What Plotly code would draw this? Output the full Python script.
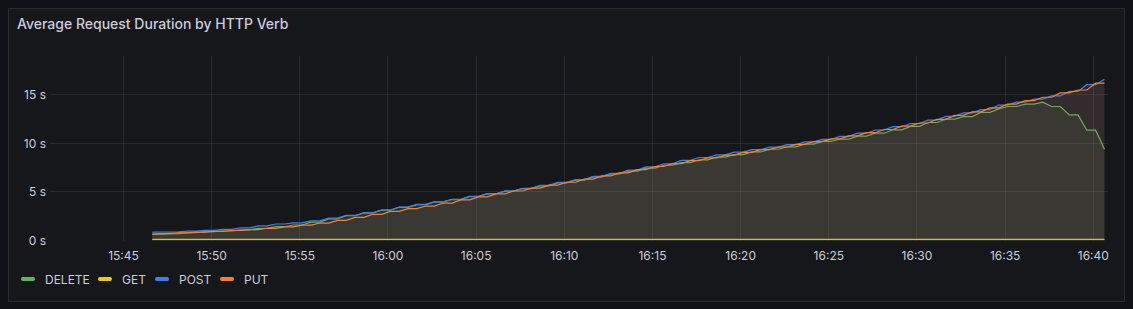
import pandas as pd
import plotly.graph_objects as go

title = "Average Request Duration by HTTP Verb"
series_names = ["DELETE", "GET", "POST", "PUT"]
series_colors = ["#62B556", "#F2C811", "#3F80EF", "#FF7F27"]

# 30-second samples
times = pd.date_range("2024-01-01 15:46:38", periods=109, freq="30s")

delete_s = [
    0.64, 0.64, 0.70, 0.70, 0.80, 0.80, 0.90, 0.90, 0.98, 0.98, 1.10, 1.10, 1.25, 1.25, 1.42, 1.42, 1.60, 1.60, 1.90, 1.90,
    2.22, 2.22, 2.55, 2.55, 2.85, 2.85, 3.12, 3.12, 3.42, 3.42, 3.70, 3.70, 3.98, 3.98, 4.25, 4.25, 4.55, 4.55, 4.82, 4.82,
    5.08, 5.08, 5.35, 5.35, 5.62, 5.62, 5.92, 5.92, 6.22, 6.22, 6.55, 6.55, 6.85, 6.85, 7.15, 7.15, 7.45, 7.45, 7.75, 7.75,
    8.02, 8.02, 8.30, 8.30, 8.58, 8.58, 8.85, 8.85, 9.12, 9.12, 9.40, 9.40, 9.65, 9.65, 9.92, 9.92, 10.20, 10.20, 10.45, 10.45,
    10.75, 10.75, 11.05, 11.05, 11.40, 11.40, 11.75, 11.75, 12.15, 12.15, 12.50, 12.50, 12.76, 12.76, 13.20, 13.20,
    13.55, 13.80, 13.80, 14.04, 14.04, 14.25, 13.80, 13.80, 12.94, 12.94, 11.36, 11.36, 9.40,
]

get_s = [
    0.12, 0.12, 0.12, 0.12, 0.12, 0.12, 0.12, 0.12, 0.12, 0.12, 0.12, 0.12, 0.12, 0.12, 0.12, 0.12, 0.12, 0.12, 0.12, 0.12,
    0.12, 0.12, 0.12, 0.12, 0.12, 0.12, 0.12, 0.12, 0.12, 0.12, 0.12, 0.12, 0.12, 0.12, 0.12, 0.12, 0.12, 0.12, 0.12, 0.12,
    0.12, 0.12, 0.12, 0.12, 0.12, 0.12, 0.12, 0.12, 0.12, 0.12, 0.12, 0.12, 0.12, 0.12, 0.12, 0.12, 0.12, 0.12, 0.12, 0.12,
    0.12, 0.12, 0.12, 0.12, 0.12, 0.12, 0.12, 0.12, 0.12, 0.12, 0.12, 0.12, 0.12, 0.12, 0.12, 0.12, 0.12, 0.12, 0.12, 0.12,
    0.12, 0.12, 0.12, 0.12, 0.12, 0.12, 0.12, 0.12, 0.12, 0.12, 0.12, 0.12, 0.12, 0.12, 0.12, 0.12, 0.12, 0.12, 0.12, 0.12,
    0.12, 0.12, 0.12, 0.12, 0.12, 0.12, 0.12, 0.12, 0.12,
]

post_s = [
    0.86, 0.86, 0.90, 0.90, 0.97, 0.97, 1.05, 1.05, 1.14, 1.14, 1.30, 1.30, 1.50, 1.50, 1.70, 1.70, 1.82, 1.82, 2.02, 2.02,
    2.30, 2.30, 2.58, 2.58, 2.85, 2.85, 3.14, 3.14, 3.45, 3.45, 3.72, 3.72, 3.98, 3.98, 4.22, 4.22, 4.52, 4.52, 4.80, 4.80,
    5.10, 5.10, 5.38, 5.38, 5.68, 5.68, 5.98, 5.98, 6.28, 6.28, 6.60, 6.60, 6.92, 6.92, 7.25, 7.25, 7.58, 7.58, 7.90, 7.90,
    8.25, 8.25, 8.55, 8.55, 8.82, 8.82, 9.10, 9.10, 9.35, 9.35, 9.62, 9.62, 9.88, 9.88, 10.15, 10.15, 10.42, 10.42, 10.72, 10.72,
    11.05, 11.05, 11.38, 11.38, 11.72, 11.72, 12.05, 12.05, 12.40, 12.40, 12.78, 12.78, 13.15, 13.15, 13.48, 13.48, 13.95, 13.95, 14.25, 14.25,
    14.55, 14.55, 14.90, 14.90, 15.35, 15.35, 16.05, 16.05, 16.60,
]

put_s = [
    0.66, 0.72, 0.72, 0.78, 0.78, 0.86, 0.86, 0.95, 0.95, 1.03, 1.03, 1.13, 1.13, 1.26, 1.26, 1.40, 1.40, 1.58, 1.58,
    1.80, 1.80, 2.08, 2.08, 2.38, 2.38, 2.70, 2.70, 3.00, 3.00, 3.28, 3.28, 3.55, 3.55, 3.86, 3.86, 4.18, 4.18, 4.50, 4.50,
    4.80, 4.80, 5.10, 5.10, 5.40, 5.40, 5.70, 5.70, 6.00, 6.00, 6.32, 6.32, 6.65, 6.65, 6.97, 6.97, 7.30, 7.30, 7.62, 7.62,
    7.92, 7.92, 8.22, 8.22, 8.50, 8.50, 8.80, 8.80, 9.08, 9.08, 9.36, 9.36, 9.63, 9.63, 9.90, 9.90, 10.18, 10.18, 10.46, 10.46,
    10.78, 10.78, 11.10, 11.10, 11.43, 11.43, 11.78, 11.78, 12.10, 12.10, 12.48, 12.48, 12.88, 12.88, 13.25, 13.25, 13.65, 13.65, 14.05, 14.05,
    14.40, 14.40, 14.75, 14.75, 15.20, 15.20, 15.50, 15.50, 16.20, 16.20,
]

y_tick_vals = [0, 5, 10, 15]
y_tick_text = ["0 s", "5 s", "10 s", "15 s"]

series_values = [delete_s, get_s, post_s, put_s]
fill_colors = ["rgba(115,191,105,0.10)", "rgba(242,200,17,0.10)", "rgba(87,148,242,0.10)", "rgba(255,120,10,0.10)"]

FONT = "Inter, Roboto, sans-serif"
TXT = "#ccccdc"

W, H = 1133, 309
L, R, T, B = 50, 25, 56, 68
pw, ph = W - L - R, H - T - B

def px_x(x):
    return (x - L) / pw

def px_y(y):
    return (H - B - y) / ph

fig = go.Figure()
for name, vals, col, fc in zip(series_names, series_values, series_colors, fill_colors):
    fig.add_trace(go.Scatter(
        x=times, y=vals, name=name, mode="lines",
        line=dict(color=col, width=1.2), fill="tozeroy", fillcolor=fc,
        showlegend=False, hoverinfo="skip",
    ))

# panel
fig.add_shape(type="rect", xref="paper", yref="paper",
              x0=px_x(8.5), x1=px_x(1124.5), y0=px_y(301.5), y1=px_y(8.5),
              line=dict(color="rgba(204,204,220,0.12)", width=1),
              fillcolor="#16171b", layer="below")

# legend (swatch + label per series)
legend_swatch_x = [21, 98, 155, 220]
legend_text_x = [43, 120, 177, 242]
legend_y = 279
for name, col, sx, tx in zip(series_names, series_colors, legend_swatch_x, legend_text_x):
    fig.add_shape(type="line", xref="paper", yref="paper",
                  x0=px_x(sx + 1.5), x1=px_x(sx + 12.5), y0=px_y(legend_y), y1=px_y(legend_y),
                  line=dict(color=col, width=4))
    fig.add_shape(type="circle", xref="paper", yref="paper",
                  x0=px_x(sx), x1=px_x(sx + 4), y0=px_y(legend_y + 2), y1=px_y(legend_y - 2),
                  line=dict(width=0), fillcolor=col)
    fig.add_shape(type="circle", xref="paper", yref="paper",
                  x0=px_x(sx + 10), x1=px_x(sx + 14), y0=px_y(legend_y + 2), y1=px_y(legend_y - 2),
                  line=dict(width=0), fillcolor=col)
    fig.add_annotation(text=name, xref="paper", yref="paper", x=px_x(tx), y=px_y(legend_y),
                       xanchor="left", yanchor="middle", showarrow=False,
                       font=dict(family=FONT, size=12, color=TXT))

fig.update_layout(
    width=W, height=H,
    margin=dict(l=L, r=R, t=T, b=B),
    paper_bgcolor="#111217",
    plot_bgcolor="rgba(0,0,0,0)",
    font=dict(family=FONT, color=TXT, size=12),
    title=dict(text=title, x=17 / W, xref="container", xanchor="left",
               y=1 - 24 / H, yref="container", yanchor="middle",
               font=dict(family=FONT, size=14, color=TXT, weight=500)),
    showlegend=False,
    xaxis=dict(type="date", range=["2024-01-01 15:40:50", "2024-01-01 16:40:50"],
               tickformat="%H:%M", dtick=300000, tick0="2024-01-01 15:45:00",
               showgrid=True, gridcolor="rgba(204,204,220,0.10)", gridwidth=1,
               zeroline=False, showline=False, ticks="", ticklabelstandoff=6,
               automargin=False,
               tickfont=dict(family=FONT, size=12, color=TXT)),
    yaxis=dict(range=[-0.05, 19], tickvals=y_tick_vals, ticktext=y_tick_text,
               showgrid=True, gridcolor="rgba(204,204,220,0.10)", gridwidth=1,
               zeroline=False, showline=False, ticks="", ticklabelstandoff=3,
               automargin=False,
               tickfont=dict(family=FONT, size=12, color=TXT)),
)

fig.write_html("out.html")
